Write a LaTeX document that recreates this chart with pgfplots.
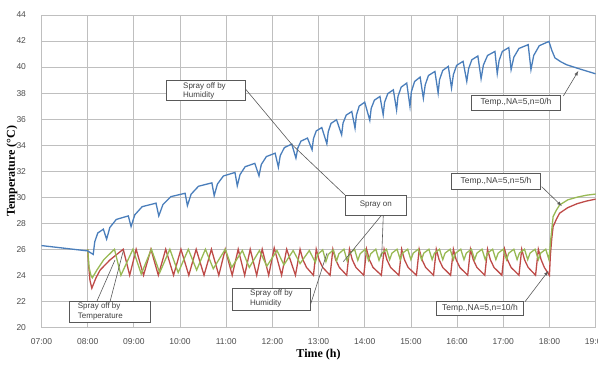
\documentclass[border=0pt]{standalone}
\usepackage{fontspec}
\setmainfont{Liberation Sans}
\newfontfamily\serifb{Liberation Serif}
\usepackage{pgfplots}
\pgfplotsset{compat=1.18}
\definecolor{cblue}{HTML}{4A7EBB}
\definecolor{cred}{HTML}{BE4B48}
\definecolor{cgreen}{HTML}{98B954}
\definecolor{cgrid}{HTML}{BFBFBF}
\begin{document}
\begin{tikzpicture}[x=1pt,y=1pt]
\useasboundingbox (0,0) rectangle (598,365);
\begin{axis}[at={(41.5pt,37.7pt)}, anchor=south west, scale only axis,
  width=554.1pt, height=312.3pt,
  xmin=7, xmax=19, ymin=20, ymax=44,
  xtick={7,...,19},
  xticklabels={07:00,08:00,09:00,10:00,11:00,12:00,13:00,14:00,15:00,16:00,17:00,18:00,19:00},
  ytick={20,22,...,44},
  grid=major, major grid style={cgrid, line width=0.8pt},
  axis line style={cgrid, line width=0.8pt},
  major tick length=0pt,
  tick label style={font=\fontsize{8.5}{10}\selectfont, text=black!70},
  /pgf/number format/assume math mode=true,
  yticklabel style={xshift=-12pt},
  xticklabel style={yshift=-8pt},
  xlabel={Time (h)}, ylabel={Temperature (°C)},
  every axis x label/.style={at={(rel axis cs:0.5,0)}, yshift=-27.7pt, anchor=center, font=\serifb\bfseries\fontsize{12}{14}\selectfont},
  every axis y label/.style={at={(rel axis cs:0,0.5)}, xshift=-29.5pt, rotate=90, anchor=center, font=\serifb\bfseries\fontsize{12}{14}\selectfont},
]
% red: NA=5, n=10/h
\addplot[cred, line width=1.3pt] coordinates {
(8.00,26.0)(8.02,24.8)(8.05,23.6)(8.09,23.0)(8.18,23.8)(8.27,24.4)(8.48,25.17)(8.77,26.0)
(8.91,24.0)(9.05,26.0)(9.21,24.0)(9.37,26.0)(9.53,24.0)(9.69,26.0)(9.86,24.0)(10.02,26.0)
(10.19,24.0)(10.35,26.0)(10.52,24.0)(10.68,26.0)(10.84,24.0)(10.98,26.0)(11.13,24.0)(11.26,26.0)
(11.40,24.0)(11.52,26.0)(11.66,24.0)(11.78,26.0)(11.92,24.0)(12.04,26.1)(12.20,24.0)(12.31,26.0)
(12.50,24.0)(12.60,26.0)
(12.66,25.2)(12.74,24.6)(12.89,24.0)(12.95,26.0)
(13.01,25.2)(13.09,24.6)(13.25,24.0)(13.31,26.0)
(13.37,25.2)(13.45,24.6)(13.61,24.0)(13.67,26.0)
(13.73,25.2)(13.81,24.6)(13.98,24.0)(14.04,26.0)
(14.10,25.2)(14.18,24.6)(14.36,24.0)(14.42,26.0)
(14.48,25.2)(14.56,24.6)(14.74,24.0)(14.80,26.0)
(14.86,25.2)(14.94,24.6)(15.12,24.0)(15.18,26.0)
(15.24,25.2)(15.32,24.6)(15.49,24.0)(15.55,26.0)
(15.61,25.2)(15.69,24.6)(15.86,24.0)(15.92,26.0)
(15.98,25.2)(16.06,24.6)(16.23,24.0)(16.29,26.0)
(16.35,25.2)(16.43,24.6)(16.60,24.0)(16.66,26.0)
(16.72,25.2)(16.80,24.6)(16.97,24.0)(17.03,26.0)
(17.09,25.2)(17.17,24.6)(17.34,24.0)(17.40,26.0)
(17.46,25.2)(17.54,24.6)(17.70,24.0)(17.76,26.0)
(17.82,25.2)(17.89,24.6)(18.00,24.0)
(18.02,25.5)(18.05,26.8)(18.08,27.74)(18.15,28.3)(18.22,28.77)(18.40,29.2)(18.60,29.5)(18.80,29.7)(19.00,29.85)
};
% green: NA=5, n=5/h
\addplot[cgreen, line width=1.3pt] coordinates {
(8.00,26.0)(8.03,24.6)(8.07,24.0)(8.10,23.8)(8.20,24.4)(8.35,25.2)(8.58,26.0)
(8.72,24.0)(8.98,26.0)(9.16,24.1)(9.38,26.0)(9.56,24.2)(9.78,26.0)(9.96,24.2)(10.18,26.0)
(10.36,24.4)(10.55,26.0)(10.72,24.5)(10.98,26.0)(11.12,24.6)(11.35,25.9)(11.50,24.6)(11.72,25.9)
(11.88,24.7)(12.10,25.9)(12.25,24.8)(12.45,25.9)(12.60,24.9)(12.80,25.9)
(12.93,25.0)(12.98,25.6)(13.09,25.95)
(13.16,25.05)(13.21,25.6)(13.32,25.95)
(13.39,25.1)(13.44,25.65)(13.55,26.0)
(13.62,25.1)(13.67,25.65)(13.78,26.0)
(13.85,25.15)(13.90,25.65)(14.01,26.0)
(14.08,25.15)(14.13,25.65)(14.24,26.0)
(14.31,25.15)(14.36,25.65)(14.47,26.0)
(14.54,25.2)(14.59,25.7)(14.70,26.0)
(14.77,25.2)(14.82,25.7)(14.93,26.0)
(15.00,25.2)(15.05,25.7)(15.16,26.0)
(15.23,25.2)(15.28,25.7)(15.39,26.0)
(15.46,25.2)(15.51,25.7)(15.62,26.0)
(15.69,25.2)(15.74,25.7)(15.85,26.0)
(15.92,25.2)(15.97,25.7)(16.08,26.0)
(16.15,25.2)(16.20,25.7)(16.31,26.0)
(16.38,25.2)(16.43,25.7)(16.54,26.0)
(16.61,25.2)(16.66,25.7)(16.77,26.0)
(16.84,25.2)(16.89,25.7)(17.00,26.0)
(17.07,25.2)(17.12,25.7)(17.23,26.0)
(17.30,25.2)(17.35,25.7)(17.46,26.0)
(17.53,25.2)(17.58,25.7)(17.69,26.0)
(17.76,25.2)(17.81,25.7)(17.92,26.0)
(17.99,25.2)
(18.03,26.8)(18.08,28.5)(18.15,29.0)(18.22,29.4)(18.40,29.8)(18.60,30.0)(18.80,30.15)(19.00,30.24)
};
% blue: NA=5, n=0/h
\addplot[cblue, line width=1.3pt] coordinates {
(7.00,26.28)(8.00,25.87)(8.12,25.60)(8.153,26.57)(8.219,27.25)(8.34,27.54)
(8.41,26.77)(8.48,27.67)(8.62,28.29)(8.88,28.56)
(8.94,27.74)(9.02,28.64)(9.18,29.27)(9.48,29.54)
(9.54,28.56)(9.63,29.43)(9.80,30.04)(10.11,30.30)
(10.16,29.35)(10.24,30.23)(10.40,30.84)(10.69,31.10)
(10.74,30.12)(10.81,31.01)(10.94,31.63)(11.19,31.90)
(11.24,30.87)(11.30,31.74)(11.41,32.34)(11.62,32.60)
(11.71,31.64)(11.76,32.51)(11.87,33.12)(12.06,33.38)
(12.13,32.30)(12.17,33.19)(12.26,33.81)(12.42,34.08)
(12.51,33.00)(12.55,33.77)(12.62,34.31)(12.76,34.54)
(12.86,33.64)(12.89,34.50)(12.95,35.09)(13.07,35.35)
(13.18,34.10)(13.21,35.03)(13.27,35.67)(13.39,35.95)
(13.50,34.79)(13.53,35.69)(13.60,36.31)(13.72,36.58)
(13.79,35.30)(13.82,36.30)(13.88,37.00)(14.00,37.30)
(14.11,35.90)(14.14,36.82)(14.21,37.46)(14.33,37.74)
(14.40,36.33)(14.43,37.29)(14.50,37.96)(14.62,38.25)
(14.69,36.70)(14.72,37.74)(14.79,38.46)(14.91,38.77)
(14.98,36.97)(15.01,38.10)(15.08,38.89)(15.20,39.23)
(15.27,37.60)(15.31,38.63)(15.38,39.35)(15.52,39.66)
(15.59,38.00)(15.62,39.03)(15.69,39.74)(15.81,40.05)
(15.88,38.38)(15.92,39.41)(15.99,40.13)(16.13,40.44)
(16.21,38.90)(16.25,39.88)(16.32,40.56)(16.45,40.85)
(16.52,39.10)(16.57,40.15)(16.66,40.89)(16.82,41.20)
(16.87,39.50)(16.91,40.50)(16.98,41.20)(17.12,41.50)
(17.17,39.80)(17.23,40.76)(17.34,41.43)(17.54,41.72)
(17.60,39.80)(17.66,40.89)(17.78,41.64)(17.99,41.97)
(18.05,41.30)(18.12,40.70)(18.25,40.40)(18.37,40.18)(18.66,39.85)(19.00,39.48)
};
\end{axis}
% annotations (picture coordinates, 1pt = 1px of the reference, y from bottom)
\begin{scope}[line width=0.6pt, draw=black!65]
\draw (245.7,275.7) -- (291.7,220.7);
\draw (345,170) -- (291.7,220.7);
\draw (381.7,150) -- (343.3,103.3);
\draw (383.3,150) -- (381.7,108.3);
\draw (310,59) -- (327,112);
\draw (96.7,63.3) -- (115,105);
\draw (110,63.3) -- (123.3,114.3);
\draw[-latex] (563.3,269) -- (578.3,294);
\draw[-latex] (541.7,178.3) -- (561.7,159);
\draw[-latex] (525,63.3) -- (548.3,94);
\end{scope}
\begin{scope}[every node/.style={inner sep=0pt, text=black!75, font=\fontsize{8}{9.7}\selectfont}]
\draw[black!65, line width=0.7pt, fill=white] (166,264.3) rectangle (245.7,284.3);
\node[anchor=west] at (183,279) {Spray off by};
\node[anchor=west] at (183,269.3) {Humidity};
\draw[black!65, line width=0.7pt, fill=white] (345,150) rectangle (406.7,170);
\node at (375.8,160) {Spray on};
\draw[black!65, line width=0.7pt, fill=white] (232.3,55) rectangle (310,76.7);
\node[anchor=west] at (250,71.7) {Spray off by};
\node[anchor=west] at (250,61.3) {Humidity};
\draw[black!65, line width=0.7pt, fill=white] (69,42.3) rectangle (150,63.3);
\node[anchor=west] at (77.7,58.3) {Spray off by};
\node[anchor=west] at (77.7,48.3) {Temperature};
\draw[black!65, line width=0.7pt, fill=white] (471.7,255) rectangle (560,270);
\node[font=\fontsize{8.5}{10}\selectfont] at (516,262.5) {Temp.,NA=5,n=0/h};
\draw[black!65, line width=0.7pt, fill=white] (451.7,176) rectangle (540,192);
\node[font=\fontsize{8.5}{10}\selectfont] at (496,184) {Temp.,NA=5,n=5/h};
\draw[black!65, line width=0.7pt, fill=white] (436.7,50) rectangle (523.3,63.3);
\node[font=\fontsize{8.5}{10}\selectfont] at (480,56.7) {Temp.,NA=5,n=10/h};
\end{scope}
\end{tikzpicture}
\end{document}
